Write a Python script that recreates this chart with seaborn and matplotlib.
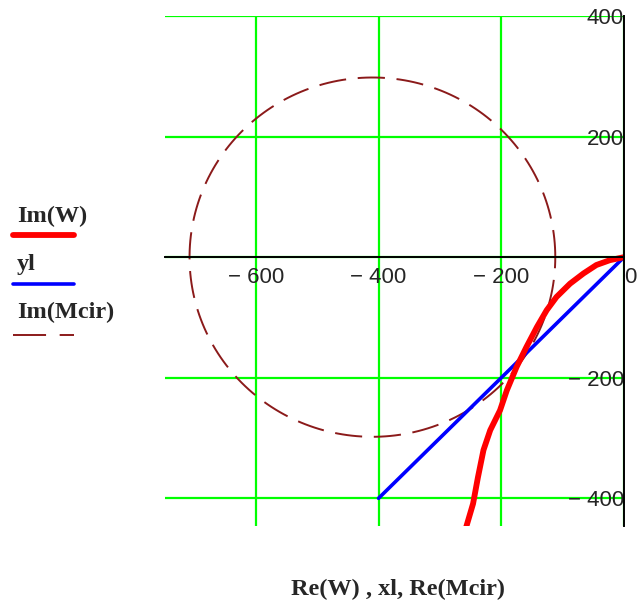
import numpy as np
import pandas as pd
import matplotlib
matplotlib.use('Agg')
import matplotlib.pyplot as plt
import seaborn as sns
from matplotlib.lines import Line2D

# W curve (Re, Im)
re_w = [0, -23, -45, -66, -88, -110, -126, -142, -159, -175, -191, -202, -218, -229, -238, -246, -257]
im_w = [0, -5, -13, -27, -44, -66, -88, -116, -149, -182, -221, -254, -287, -320, -365, -409, -447]

# straight line xl, yl
xl = [0, -400]
yl = [0, -400]

# Mcir circle
mcir_center = (-410, 0)
mcir_radius = 298

x_ticks = [-600, -400, -200, 0]
x_labels = ['\u2212 600', '\u2212 400', '\u2212 200', '0']
y_ticks = [-400, -200, 0, 200, 400]
y_labels = ['\u2212 400', '\u2212 200', '', '200', '400']

theta = np.linspace(0, 2 * np.pi, 240)
mcir = pd.DataFrame({'re': mcir_center[0] + mcir_radius * np.cos(theta),
                     'im': mcir_center[1] + mcir_radius * np.sin(theta)})
w = pd.DataFrame({'re': re_w, 'im': im_w})
line = pd.DataFrame({'x': xl, 'y': yl})

sns.set_style('white')
plt.rcParams['font.family'] = ['Liberation Sans', 'DejaVu Sans']

fig = plt.figure(figsize=(6.41, 6.02), dpi=100)
ax = fig.add_axes([0.2574, 0.1262, 0.7161, 0.8472])

circ_style = (0, (14, 6))
sns.lineplot(data=mcir, x='re', y='im', sort=False, estimator=None, ax=ax,
             color='#8b1a1a', lw=1.4, linestyle=circ_style)
sns.lineplot(data=line, x='x', y='y', sort=False, estimator=None, ax=ax,
             color='#0000ff', lw=2.6)
sns.lineplot(data=w, x='re', y='im', sort=False, estimator=None, ax=ax,
             color='#ff0000', lw=4.2, solid_capstyle='round')

ax.set_xlim(-748, 0)
ax.set_ylim(-446, 400)
ax.grid(True, color='#00ff00', lw=1.6)
ax.set_axisbelow(True)

for s in ['top', 'right']:
    ax.spines[s].set_visible(False)
ax.spines['bottom'].set_position(('data', 0))
ax.spines['left'].set_position(('data', 0))
for s in ['bottom', 'left']:
    ax.spines[s].set_color('black')
    ax.spines[s].set_linewidth(1.4)

ax.set_xticks(x_ticks)
ax.set_xticklabels(x_labels)
ax.set_yticks(y_ticks)
ax.set_yticklabels(y_labels)
ax.tick_params(direction='inout', length=8, width=1.2, labelsize=16, color='black')
ax.tick_params(axis='x', pad=3)
ax.tick_params(axis='y', pad=-4)
ax.set_xlabel('')
ax.set_ylabel('')
ax.get_xticklabels()[-1].set_horizontalalignment('left')

# legend drawn outside the axes, Mathcad style
serif_bold = dict(family='Liberation Serif', weight='bold', fontsize=17.5)
H, W_ = 602.0, 641.0
entries = [('Im(W)', 222, 235, dict(color='#ff0000', lw=4.2, solid_capstyle='round')),
           ('yl', 270, 284, dict(color='#0000ff', lw=2.6)),
           ('Im(Mcir)', 318, 335, dict(color='#8b1a1a', lw=1.4, linestyle=(0, (17, 7))))]
for label, base, ly, kw in entries:
    fig.text(17 / W_, 1 - base / H, label, va='baseline', ha='left', **serif_bold)
    fig.add_artist(Line2D([13 / W_, 74 / W_], [1 - ly / H, 1 - ly / H], **kw))

fig.text(398 / W_, 1 - 595 / H, 'Re(W) , xl, Re(Mcir)', ha='center', va='baseline', **serif_bold)

fig.savefig('out.png', dpi=100)
